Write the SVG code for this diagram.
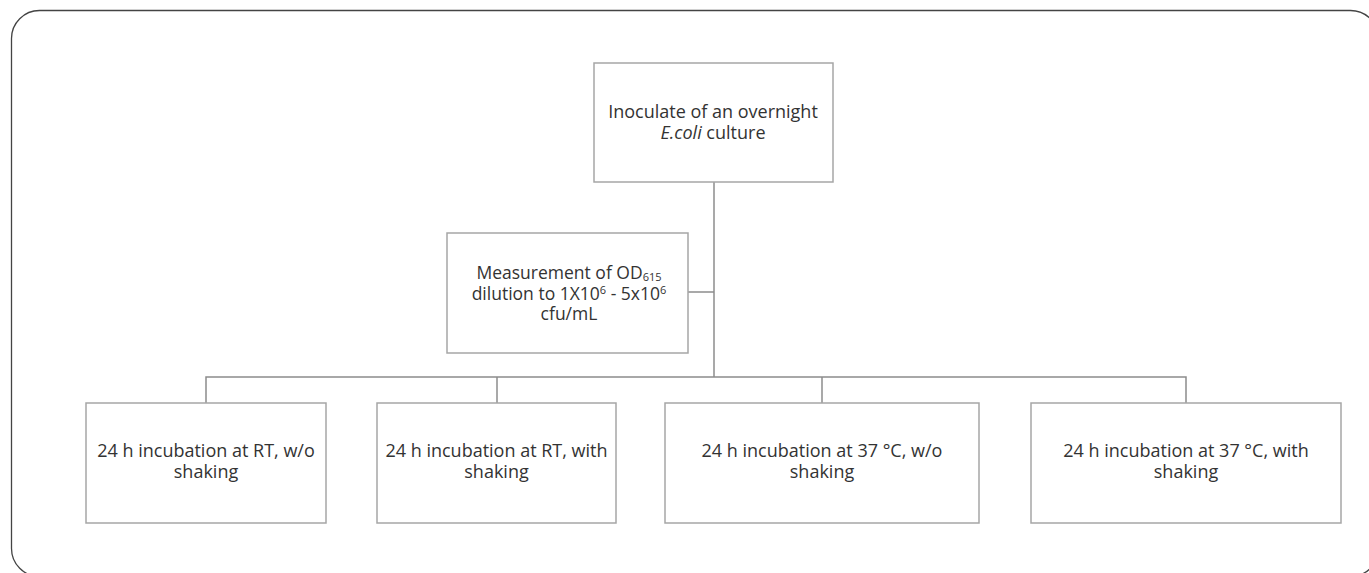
<svg xmlns="http://www.w3.org/2000/svg" width="1369" height="573" viewBox="0 0 1369 573">
<style>
.box{fill:#fff;stroke:#a6a6a6;stroke-width:1.5}
.con{fill:none;stroke:#8c8c8c;stroke-width:1.5}
text{font-family:"Open Sans","Noto Sans","Liberation Sans",sans-serif;font-size:18px;fill:#333;text-anchor:middle}
.m{font-size:17.5px}
.sub{font-size:11px}
</style>
<rect width="1369" height="573" fill="#fff"/>
<rect x="11.5" y="10.5" width="1367" height="566" rx="28" ry="28" fill="none" stroke="#444" stroke-width="1.3"/>
<g id="connectors">
<path class="con" d="M714 182V377"/>
<path class="con" d="M688 292H714"/>
<path class="con" d="M206 403V377H1186V403"/>
<path class="con" d="M497 377V403"/>
<path class="con" d="M822 377V403"/>
</g>
<g id="n1">
<rect class="box" x="594" y="63" width="239" height="119"/>
<text x="713" y="118">Inoculate of an overnight<tspan x="713" y="139" font-style="italic">E.coli</tspan><tspan> culture</tspan></text>
</g>
<g id="n2">
<rect class="box" x="447" y="233" width="241" height="120"/>
<text class="m" x="569" y="279">Measurement of OD<tspan class="sub" dy="2">615</tspan><tspan x="569" y="299.5">dilution to 1X10</tspan><tspan class="sub" dy="-6">6</tspan><tspan dy="6"> - 5x10</tspan><tspan class="sub" dy="-6">6</tspan><tspan x="569" y="320">cfu/mL</tspan></text>
</g>
<g id="n3">
<rect class="box" x="86" y="403" width="240" height="120"/>
<text x="206" y="457">24 h incubation at RT, w/o<tspan x="206" y="478">shaking</tspan></text>
</g>
<g id="n4">
<rect class="box" x="377" y="403" width="239" height="120"/>
<text x="496.5" y="457">24 h incubation at RT, with<tspan x="496.5" y="478">shaking</tspan></text>
</g>
<g id="n5">
<rect class="box" x="665" y="403" width="314" height="120"/>
<text x="822" y="457">24 h incubation at 37 °C, w/o<tspan x="822" y="478">shaking</tspan></text>
</g>
<g id="n6">
<rect class="box" x="1031" y="403" width="310" height="120"/>
<text x="1186" y="457">24 h incubation at 37 °C, with<tspan x="1186" y="478">shaking</tspan></text>
</g>
</svg>
